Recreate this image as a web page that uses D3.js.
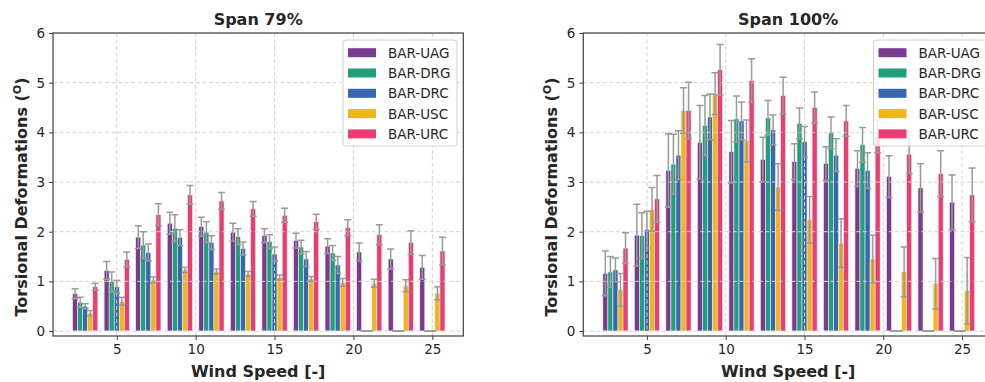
<!DOCTYPE html>
<html>
<head>
<meta charset="utf-8">
<script src="https://cdn.jsdelivr.net/npm/d3@7"></script>
<style>
  body { margin: 0; background: #fff; }
  svg { font-family: "DejaVu Sans", sans-serif; }
</style>
</head>
<body>
<div id="chart"></div>
<script>
// wind speed groups
const windSpeeds = [3, 5, 7, 9, 11, 13, 15, 17, 19, 21, 23, 25];
const seriesNames = ['BAR-UAG', 'BAR-DRG', 'BAR-DRC', 'BAR-USC', 'BAR-URC'];
const seriesColors = ['#7a3b8f', '#1fa07a', '#3767ad', '#f0b41c', '#e93e72'];
const xTicks = [5, 10, 15, 20, 25];
const yTicks = [0, 1, 2, 3, 4, 5, 6];

// Span 79% - means
const span79UAG = [0.75, 1.22, 1.89, 2.17, 2.10, 1.99, 1.92, 1.82, 1.71, 1.59, 1.45, 1.28];
const span79DRG = [0.58, 0.99, 1.73, 2.07, 1.99, 1.90, 1.80, 1.69, 1.57, 0, 0, 0];
const span79DRC = [0.50, 0.89, 1.58, 1.88, 1.78, 1.66, 1.55, 1.45, 1.33, 0, 0, 0];
const span79USC = [0.36, 0.60, 1.03, 1.23, 1.20, 1.15, 1.08, 1.05, 0.98, 0.96, 0.91, 0.76];
const span79URC = [0.89, 1.44, 2.34, 2.74, 2.62, 2.46, 2.33, 2.20, 2.08, 1.94, 1.78, 1.61];
// Span 79% - errors
const span79UAGErr = [0.10, 0.18, 0.23, 0.22, 0.19, 0.18, 0.14, 0.15, 0.15, 0.18, 0.20, 0.24];
const span79DRGErr = [0.10, 0.20, 0.27, 0.27, 0.21, 0.16, 0.14, 0.14, 0.15, 0, 0, 0];
const span79DRCErr = [0.05, 0.13, 0.17, 0.16, 0.14, 0.13, 0.14, 0.15, 0.17, 0, 0, 0];
const span79USCErr = [0.05, 0.08, 0.06, 0.05, 0.05, 0.05, 0.05, 0.05, 0.08, 0.08, 0.12, 0.13];
const span79URCErr = [0.07, 0.15, 0.22, 0.19, 0.17, 0.15, 0.14, 0.15, 0.16, 0.20, 0.24, 0.28];

// Span 100% - means
const span100UAG = [1.16, 1.93, 3.23, 3.80, 3.61, 3.45, 3.41, 3.37, 3.27, 3.11, 2.88, 2.59];
const span100DRG = [1.19, 1.92, 3.36, 4.14, 4.27, 4.29, 4.18, 3.99, 3.75, 0, 0, 0];
const span100DRC = [1.23, 2.04, 3.54, 4.31, 4.23, 4.05, 3.81, 3.54, 3.23, 0, 0, 0];
const span100USC = [0.83, 2.45, 4.44, 4.78, 3.83, 2.90, 2.24, 1.77, 1.45, 1.19, 0.95, 0.81];
const span100URC = [1.67, 2.66, 4.44, 5.26, 5.04, 4.74, 4.50, 4.23, 3.92, 3.56, 3.17, 2.74];
// Span 100% - errors
const span100UAGErr = [0.45, 0.62, 0.74, 0.74, 0.63, 0.45, 0.36, 0.34, 0.36, 0.42, 0.49, 0.55];
const span100DRGErr = [0.31, 0.46, 0.60, 0.60, 0.46, 0.35, 0.31, 0.32, 0.35, 0, 0, 0];
const span100DRCErr = [0.24, 0.37, 0.49, 0.46, 0.38, 0.30, 0.31, 0.33, 0.36, 0, 0, 0];
const span100USCErr = [0.33, 0.44, 0.46, 0.42, 0.42, 0.47, 0.47, 0.49, 0.48, 0.50, 0.51, 0.67];
const span100URCErr = [0.31, 0.47, 0.57, 0.51, 0.44, 0.37, 0.31, 0.31, 0.33, 0.39, 0.46, 0.54];

const panels = [
  {
    title: 'Span 79%',
    left: 53, right: 463.3,
    means: [span79UAG, span79DRG, span79DRC, span79USC, span79URC],
    errs: [span79UAGErr, span79DRGErr, span79DRCErr, span79USCErr, span79URCErr],
    legendX: 343
  },
  {
    title: 'Span 100%',
    left: 583.3, right: 993,
    means: [span100UAG, span100DRG, span100DRC, span100USC, span100URC],
    errs: [span100UAGErr, span100DRGErr, span100DRCErr, span100USCErr, span100URCErr],
    legendX: 873.5
  }
];

const dimensions = { width: 985, height: 382, top: 33, bottom: 336 };
const barWidth = 0.32;
const gridColor = '#d4d4d4';
const spineColor = '#404040';
const errColor = '#9a9a9a';

const svg = d3.select('#chart')
  .append('svg')
  .attr('width', dimensions.width)
  .attr('height', dimensions.height);

panels.forEach(p => drawPanel(p));

function drawPanel(p) {
  const xScale = d3.scaleLinear()
    .domain([0.96, 26.96])
    .range([p.left, p.right]);
  const yScale = d3.scaleLinear()
    .domain([-0.1, 6])
    .range([dimensions.bottom, dimensions.top]);

  const g = svg.append('g');
  const clipId = 'clip' + Math.round(p.left);
  g.append('clipPath').attr('id', clipId)
    .append('rect')
    .attr('x', p.left).attr('y', dimensions.top)
    .attr('width', p.right - p.left).attr('height', dimensions.bottom - dimensions.top);

  const plot = g.append('g').attr('clip-path', `url(#${clipId})`);

  // bars
  const barData = [];
  p.means.forEach((arr, si) => {
    arr.forEach((v, i) => {
      barData.push({
        s: si,
        x: windSpeeds[i] + (si - 2) * barWidth,
        v: v,
        e: p.errs[si][i]
      });
    });
  });

  plot.selectAll('rect.bar')
    .data(barData)
    .join('rect')
    .attr('class', 'bar')
    .attr('x', d => xScale(d.x - barWidth / 2))
    .attr('width', d => xScale(d.x + barWidth / 2) - xScale(d.x - barWidth / 2))
    .attr('y', d => yScale(d.v))
    .attr('height', d => yScale(0) - yScale(d.v))
    .attr('fill', d => seriesColors[d.s])
    .attr('stroke', '#f4eef4')
    .attr('stroke-width', 0.6);

  // grid sits on top of the bars
  plot.append('g')
    .selectAll('line')
    .data(yTicks)
    .join('line')
    .attr('x1', p.left).attr('x2', p.right)
    .attr('y1', d => yScale(d)).attr('y2', d => yScale(d))
    .attr('stroke', gridColor)
    .attr('stroke-dasharray', '4,2.5')
    .attr('stroke-width', 1);

  plot.append('g')
    .selectAll('line')
    .data(xTicks)
    .join('line')
    .attr('x1', d => xScale(d)).attr('x2', d => xScale(d))
    .attr('y1', dimensions.top).attr('y2', dimensions.bottom)
    .attr('stroke', gridColor)
    .attr('stroke-dasharray', '4,2.5')
    .attr('stroke-width', 1);

  // error bars
  const capHalf = 3.5;
  const errG = plot.append('g')
    .attr('stroke', errColor)
    .attr('stroke-width', 1.5);

  errG.selectAll('line.stem')
    .data(barData.filter(d => d.e > 0))
    .join('line')
    .attr('class', 'stem')
    .attr('x1', d => xScale(d.x)).attr('x2', d => xScale(d.x))
    .attr('y1', d => yScale(d.v - d.e)).attr('y2', d => yScale(d.v + d.e));

  errG.selectAll('line.capTop')
    .data(barData)
    .join('line')
    .attr('class', 'capTop')
    .attr('x1', d => xScale(d.x) - capHalf).attr('x2', d => xScale(d.x) + capHalf)
    .attr('y1', d => yScale(d.v + d.e)).attr('y2', d => yScale(d.v + d.e));

  errG.selectAll('line.capBot')
    .data(barData)
    .join('line')
    .attr('class', 'capBot')
    .attr('x1', d => xScale(d.x) - capHalf).attr('x2', d => xScale(d.x) + capHalf)
    .attr('y1', d => yScale(d.v - d.e)).attr('y2', d => yScale(d.v - d.e));

  // axes
  const xAxis = d3.axisBottom(xScale).tickValues(xTicks).tickSize(4).tickPadding(4)
    .tickFormat(d3.format('d'));
  const yAxis = d3.axisLeft(yScale).tickValues(yTicks).tickSize(4).tickPadding(4)
    .tickFormat(d3.format('d'));

  const xAxisGroup = g.append('g')
    .attr('transform', `translate(0, ${dimensions.bottom})`)
    .call(xAxis);
  const yAxisGroup = g.append('g')
    .attr('transform', `translate(${p.left}, 0)`)
    .call(yAxis);

  [xAxisGroup, yAxisGroup].forEach(ax => {
    ax.select('.domain').remove();
    ax.selectAll('line').attr('stroke', spineColor).attr('stroke-width', 1);
    ax.selectAll('text')
      .attr('fill', '#262626')
      .style('font-size', '13.5px')
      .style('font-family', '"DejaVu Sans", sans-serif');
  });

  // spines
  g.append('rect')
    .attr('x', p.left).attr('y', dimensions.top)
    .attr('width', p.right - p.left).attr('height', dimensions.bottom - dimensions.top)
    .attr('fill', 'none')
    .attr('stroke', spineColor)
    .attr('stroke-width', 1.2);

  // legend
  const legend = g.append('g').attr('transform', `translate(${p.legendX}, 40)`);
  legend.append('rect')
    .attr('width', 114).attr('height', 106)
    .attr('rx', 3)
    .attr('fill', 'white').attr('fill-opacity', 0.82)
    .attr('stroke', '#d0d0d0').attr('stroke-width', 1);

  const items = legend.selectAll('g.item')
    .data(seriesNames)
    .join('g')
    .attr('class', 'item')
    .attr('transform', (d, i) => `translate(0, ${12.7 + i * 20.3})`);

  items.append('rect')
    .attr('x', 5).attr('y', -4.5)
    .attr('width', 28).attr('height', 9)
    .attr('fill', (d, i) => seriesColors[i]);

  items.append('text')
    .attr('x', 45).attr('y', 5)
    .attr('fill', '#262626')
    .style('font-size', '13.5px')
    .text(d => d);

  // titles and labels
  const cx = (p.left + p.right) / 2;
  g.append('text')
    .attr('x', cx).attr('y', 25)
    .attr('text-anchor', 'middle')
    .attr('fill', '#262626')
    .style('font-size', '16px')
    .style('font-weight', 'bold')
    .text(p.title);

  g.append('text')
    .attr('x', cx).attr('y', 377)
    .attr('text-anchor', 'middle')
    .attr('fill', '#262626')
    .style('font-size', '16px')
    .style('font-weight', 'bold')
    .text('Wind Speed [-]');

  const yl = g.append('text')
    .attr('transform', `translate(${p.left - 26}, 197) rotate(-90)`)
    .attr('text-anchor', 'middle')
    .attr('fill', '#262626')
    .style('font-size', '16px')
    .style('font-weight', 'bold');
  yl.append('tspan').text('Torsional Deformations (');
  yl.append('tspan').attr('dy', -6).style('font-size', '11px').text('O');
  yl.append('tspan').attr('dy', 6).text(')');
}
</script>
</body>
</html>
